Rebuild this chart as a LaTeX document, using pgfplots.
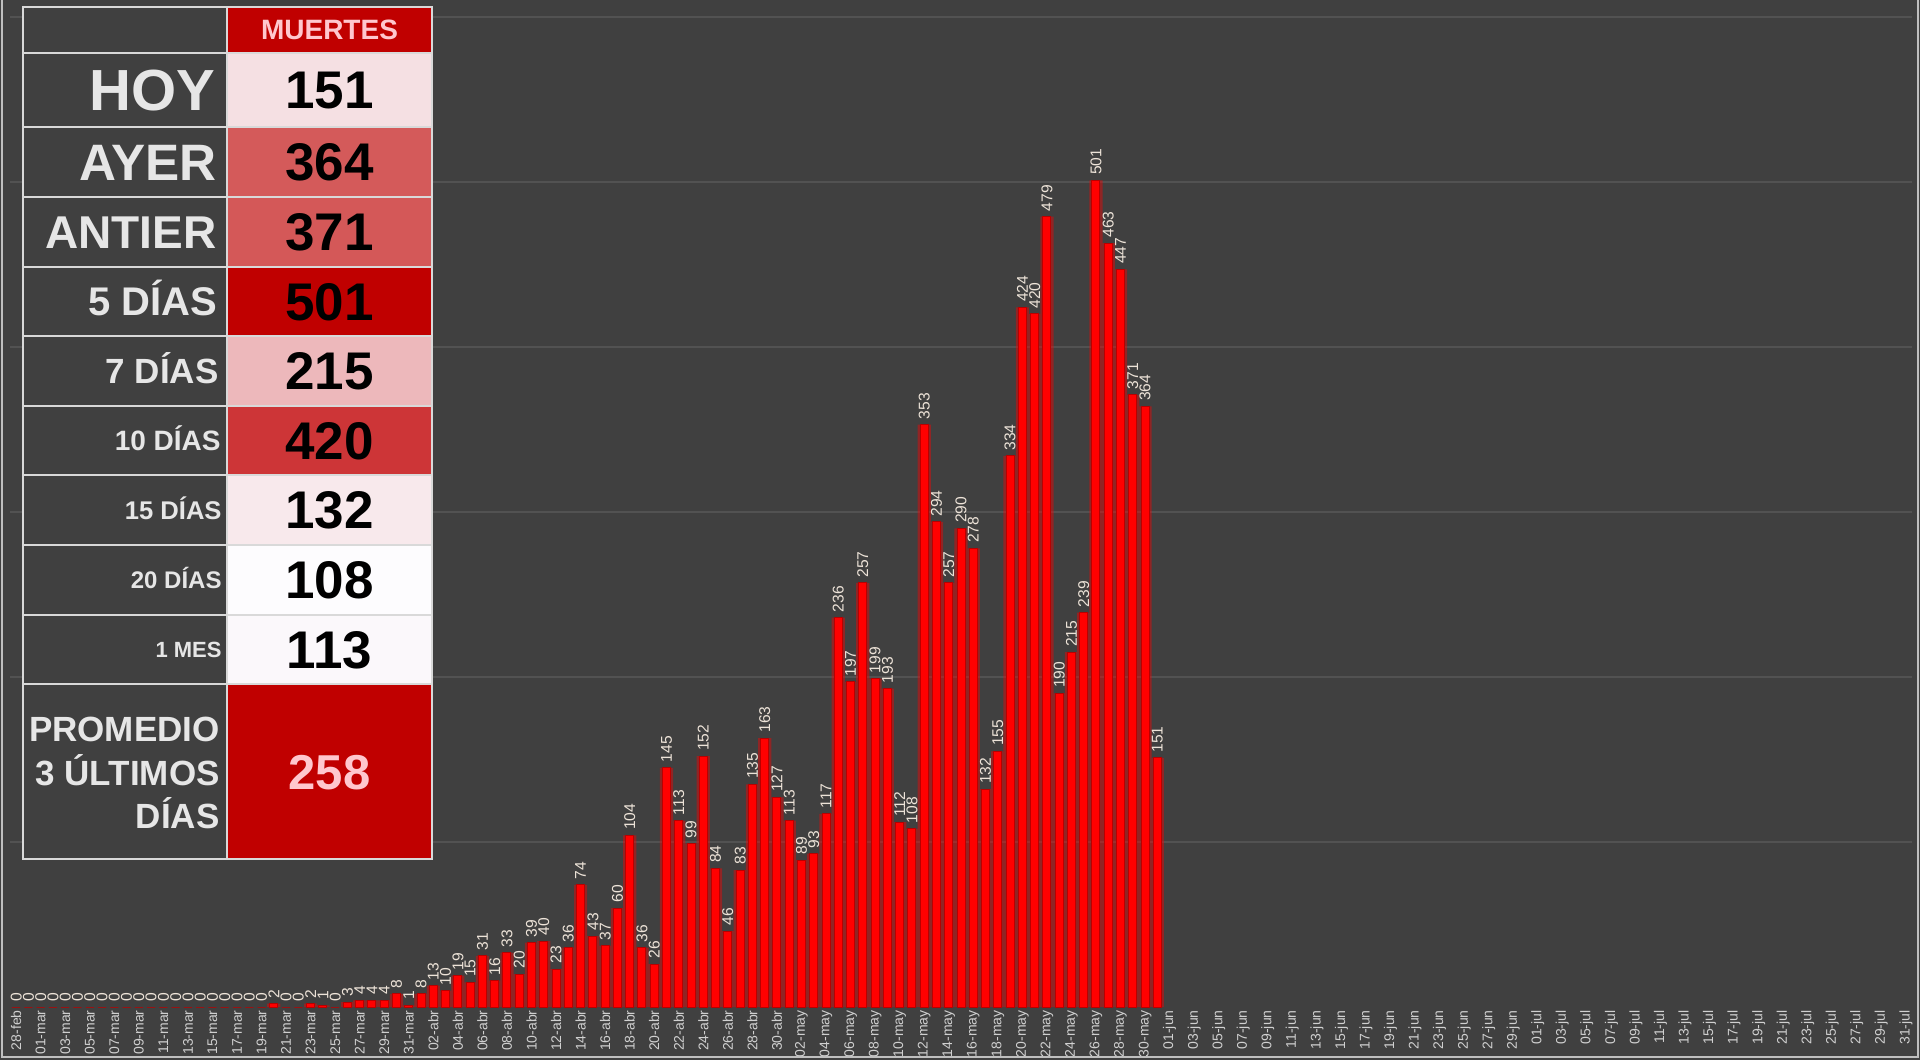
\documentclass[border=0pt]{standalone}
\usepackage{pgfplots}
\pgfplotsset{compat=1.18}
\usepackage{pgfplotstable}
\usepackage{fontspec}
\setmainfont{Liberation Sans}

\definecolor{bg}{HTML}{404040}
\definecolor{gridc}{HTML}{525252}
\definecolor{tickc}{HTML}{D0D0D0}
\definecolor{lblc}{HTML}{EDE3D8}
\definecolor{hdr}{HTML}{C00000}
\definecolor{mpink}{HTML}{FFC7CE}
\definecolor{tabline}{HTML}{D9D9D9}
\definecolor{labtext}{HTML}{E6E6E6}
\definecolor{frame}{HTML}{BFBFBF}
\definecolor{cA}{HTML}{F5E0E3}
\definecolor{cB}{HTML}{D45A5A}
\definecolor{cC}{HTML}{D45858}
\definecolor{cD}{HTML}{C00000}
\definecolor{cE}{HTML}{EDB8BB}
\definecolor{cF}{HTML}{CD3537}
\definecolor{cG}{HTML}{F8E9EC}
\definecolor{cH}{HTML}{FDFCFE}
\definecolor{cI}{HTML}{FBF8FB}

% day index: 0 = 28-feb ... 93 = 31-may
\pgfplotstableread{
x y
0 0
1 0
2 0
3 0
4 0
5 0
6 0
7 0
8 0
9 0
10 0
11 0
12 0
13 0
14 0
15 0
16 0
17 0
18 0
19 0
20 0
21 2
22 0
23 0
24 2
25 1
26 0
27 3
28 4
29 4
30 4
31 8
32 1
33 8
34 13
35 10
36 19
37 15
38 31
39 16
40 33
41 20
42 39
43 40
44 23
45 36
46 74
47 43
48 37
49 60
50 104
51 36
52 26
53 145
54 113
55 99
56 152
57 84
58 46
59 83
60 135
61 163
62 127
63 113
64 89
65 93
66 117
67 236
68 197
69 257
70 199
71 193
72 112
73 108
74 353
75 294
76 257
77 290
78 278
79 132
80 155
81 334
82 424
83 420
84 479
85 190
86 215
87 239
88 501
89 463
90 447
91 371
92 364
93 151
}\muertes

\newcommand{\fs}[1]{\fontsize{#1}{#1}\selectfont}

\begin{document}
\begin{tikzpicture}
\path[use as bounding box] (0,0) rectangle (960pt,530pt);
\fill[bg] (0,0) rectangle (960pt,530pt);

\begin{axis}[
  scale only axis,
  width=951pt, height=499.95pt,
  at={(5pt,26.5pt)}, anchor=south west,
  xmin=-0.5, xmax=154.5, ymin=0, ymax=606,
  axis line style={draw=none},
  major tick length=0pt,
  ytick={100,200,...,600}, yticklabels={},
  ymajorgrids, grid style={color=gridc, line width=0.6pt},
  xtick={0,2,...,154},
  xticklabels={28-feb,01-mar,03-mar,05-mar,07-mar,09-mar,11-mar,13-mar,15-mar,17-mar,19-mar,21-mar,23-mar,25-mar,27-mar,29-mar,31-mar,
    02-abr,04-abr,06-abr,08-abr,10-abr,12-abr,14-abr,16-abr,18-abr,20-abr,22-abr,24-abr,26-abr,28-abr,30-abr,
    02-may,04-may,06-may,08-may,10-may,12-may,14-may,16-may,18-may,20-may,22-may,24-may,26-may,28-may,30-may,
    01-jun,03-jun,05-jun,07-jun,09-jun,11-jun,13-jun,15-jun,17-jun,19-jun,21-jun,23-jun,25-jun,27-jun,29-jun,
    01-jul,03-jul,05-jul,07-jul,09-jul,11-jul,13-jul,15-jul,17-jul,19-jul,21-jul,23-jul,25-jul,27-jul,29-jul,31-jul},
  xticklabel style={rotate=90, anchor=east, font=\fs{7}, text=tickc, inner sep=1.5pt},
  /pgf/number format/assume math mode=true,
  clip=false,
]
\addplot[ybar, bar shift=0pt, bar width=6.6pt, fill=red, draw=none, opacity=0.42] table {\muertes};
\addplot[ybar, bar shift=0pt, bar width=4pt, fill=red, draw=red!72!black, line width=0.5pt,
  nodes near coords,
  every node near coord/.append style={rotate=90, anchor=west, font=\fs{7.8}, text=lblc, inner sep=2.5pt}]
  table {\muertes};
\end{axis}

% frame
\draw[frame, line width=0.8pt] (1pt,530pt) -- (1pt,1.5pt) -- (959pt,1.5pt) -- (959pt,530pt);

% table
\fill[bg] (11.5pt,100.5pt) rectangle (113.5pt,526.5pt);
\fill[hdr] (113.5pt,503.5pt) rectangle (216pt,526.5pt);
\fill[cA] (113.5pt,466.5pt) rectangle (216pt,503.5pt);
\fill[cB] (113.5pt,431.5pt) rectangle (216pt,466.5pt);
\fill[cC] (113.5pt,396.5pt) rectangle (216pt,431.5pt);
\fill[cD] (113.5pt,362pt) rectangle (216pt,396.5pt);
\fill[cE] (113.5pt,327pt) rectangle (216pt,362pt);
\fill[cF] (113.5pt,292.5pt) rectangle (216pt,327pt);
\fill[cG] (113.5pt,257.5pt) rectangle (216pt,292.5pt);
\fill[cH] (113.5pt,222.5pt) rectangle (216pt,257.5pt);
\fill[cI] (113.5pt,188pt) rectangle (216pt,222.5pt);
\fill[hdr] (113.5pt,100.5pt) rectangle (216pt,188pt);

\draw[tabline, line width=0.6pt] (11.5pt,100.5pt) rectangle (216pt,526.5pt);
\draw[tabline, line width=0.6pt] (113.5pt,100.5pt) -- (113.5pt,526.5pt);
\foreach \yy in {503.5,466.5,431.5,396.5,362,327,292.5,257.5,222.5,188}
  \draw[tabline, line width=0.6pt] (11.5pt,\yy pt) -- (216pt,\yy pt);

\begin{scope}[every node/.style={inner sep=0pt, font=\bfseries}]
\node[anchor=base, text=mpink, font=\bfseries\fs{14}] at (164.75pt,510pt) {MUERTES};

\node[anchor=base east, text=labtext, font=\bfseries\fs{29}] at (108pt,474.6pt) {HOY};
\node[anchor=base east, text=labtext, font=\bfseries\fs{25.6}] at (108.5pt,439.8pt) {AYER};
\node[anchor=base east, text=labtext, font=\bfseries\fs{23}] at (108.5pt,405.8pt) {ANTIER};
\node[anchor=base east, text=labtext, font=\bfseries\fs{20}] at (109pt,372.1pt) {5 DÍAS};
\node[anchor=base east, text=labtext, font=\bfseries\fs{17.5}] at (109.5pt,338.2pt) {7 DÍAS};
\node[anchor=base east, text=labtext, font=\bfseries\fs{14}] at (110.5pt,304.7pt) {10 DÍAS};
\node[anchor=base east, text=labtext, font=\bfseries\fs{12.8}] at (111pt,270.4pt) {15 DÍAS};
\node[anchor=base east, text=labtext, font=\bfseries\fs{12}] at (111pt,235.7pt) {20 DÍAS};
\node[anchor=base east, text=labtext, font=\bfseries\fs{11}] at (111pt,201.3pt) {1 MES};
\node[anchor=base east, text=labtext, font=\bfseries\fs{17.5}] at (110pt,159.2pt) {PROMEDIO};
\node[anchor=base east, text=labtext, font=\bfseries\fs{17.5}] at (110pt,137.4pt) {3 ÚLTIMOS};
\node[anchor=base east, text=labtext, font=\bfseries\fs{17.5}] at (110pt,115.7pt) {DÍAS};

\foreach \v/\yy in {151/475.5,364/439.5,371/404.5,501/369.75,215/335,420/300.25,132/265.5,108/230.5,113/195.75}
  \node[anchor=base, text=black, font=\bfseries\fs{26.5}] at (164.75pt,\yy pt) {\v};
\node[anchor=base, text=mpink, font=\bfseries\fs{24.5}] at (164.75pt,135.2pt) {258};
\end{scope}
\end{tikzpicture}
\end{document}
